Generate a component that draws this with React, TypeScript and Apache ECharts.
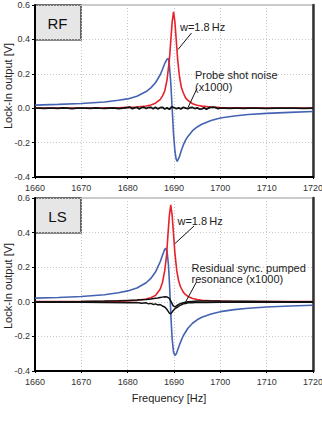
import React, { useEffect, useRef } from "react";
import * as echarts from "echarts";

// ---------- data ----------
const xTicks = [1660, 1670, 1680, 1690, 1700, 1710, 1720];
const yTicks = [-0.4, -0.2, 0.0, 0.2, 0.4, 0.6];

// RF panel
const rfRedX = [1660, 1665, 1670, 1675, 1678, 1680, 1682, 1684, 1685, 1686, 1687, 1687.5, 1688, 1688.5, 1689, 1689.3, 1689.6, 1689.9, 1690.2, 1690.5, 1690.8, 1691.2, 1691.6, 1692, 1692.5, 1693, 1694, 1695, 1696, 1698, 1700, 1703, 1706, 1710, 1715, 1720];
const rfRedY = [0.001, 0.001, 0.001, 0.002, 0.003, 0.005, 0.007, 0.013, 0.019, 0.029, 0.05, 0.07, 0.10, 0.165, 0.28, 0.39, 0.50, 0.56, 0.50, 0.39, 0.28, 0.18, 0.12, 0.09, 0.06, 0.045, 0.026, 0.017, 0.012, 0.007, 0.004, 0.003, 0.002, 0.001, 0.001, 0.001];

const rfBlueX = [1660, 1665, 1670, 1675, 1678, 1680, 1682, 1684, 1685, 1686, 1687, 1687.5, 1688, 1688.5, 1688.8, 1689, 1689.3, 1689.6, 1689.9, 1690.2, 1690.45, 1690.7, 1691.2, 1691.6, 1692, 1692.5, 1693, 1694, 1695, 1696, 1698, 1700, 1703, 1706, 1710, 1715, 1720];
const rfBlueY = [0.018, 0.022, 0.027, 0.036, 0.046, 0.054, 0.07, 0.097, 0.118, 0.148, 0.193, 0.225, 0.26, 0.285, 0.29, 0.25, 0.15, 0.0, -0.15, -0.25, -0.295, -0.31, -0.28, -0.245, -0.215, -0.186, -0.164, -0.131, -0.109, -0.093, -0.071, -0.057, -0.045, -0.037, -0.030, -0.024, -0.019];

const rfNoiseX = [1660, 1661, 1662, 1663, 1664, 1665, 1666, 1667, 1668, 1669, 1670, 1671, 1672, 1673, 1674, 1675, 1676, 1677, 1678, 1679, 1680, 1680.5, 1681, 1681.5, 1682, 1682.5, 1683, 1683.5, 1684, 1684.5, 1685, 1685.5, 1686, 1686.5, 1687, 1687.5, 1688, 1688.5, 1689, 1689.5, 1690, 1690.5, 1691, 1691.5, 1692, 1692.5, 1693, 1693.5, 1694, 1694.5, 1695, 1695.5, 1696, 1696.5, 1697, 1697.5, 1698, 1698.5, 1699, 1699.5, 1700, 1701, 1702, 1703, 1704, 1705, 1706, 1708, 1710, 1712, 1714, 1716, 1718, 1720];
const rfNoiseY = [0.001, 0.0, -0.001, 0.001, 0.0, -0.001, 0.002, 0.0, -0.002, 0.001, 0.0, 0.001, -0.001, 0.002, 0.0, -0.001, 0.001, 0.002, -0.002, 0.001, 0.004, 0.006, -0.003, 0.002, 0.005, -0.004, 0.003, 0.006, -0.002, 0.004, 0.005, -0.003, 0.006, -0.004, 0.003, 0.005, -0.005, 0.002, -0.006, 0.007, 0.004, -0.003, 0.002, -0.004, 0.005, 0.001, -0.003, 0.003, 0.004, -0.002, 0.002, -0.005, -0.004, 0.003, -0.006, 0.002, 0.005, 0.006, 0.003, -0.002, 0.001, 0.0, -0.001, 0.001, 0.0, -0.001, 0.001, 0.0, -0.001, 0.001, 0.0, 0.001, -0.001, 0.0];

// LS panel
const lsRedX = [1660, 1665, 1670, 1675, 1678, 1680, 1682, 1684, 1685, 1686, 1687, 1687.5, 1688, 1688.4, 1688.7, 1689, 1689.3, 1689.6, 1689.9, 1690.2, 1690.6, 1691, 1691.4, 1692, 1692.5, 1693, 1694, 1695, 1696, 1698, 1700, 1703, 1706, 1710, 1715, 1720];
const lsRedY = [0.001, 0.001, 0.001, 0.002, 0.004, 0.005, 0.009, 0.016, 0.023, 0.037, 0.072, 0.11, 0.18, 0.27, 0.39, 0.50, 0.56, 0.50, 0.39, 0.28, 0.18, 0.12, 0.087, 0.056, 0.041, 0.031, 0.019, 0.013, 0.009, 0.006, 0.004, 0.002, 0.002, 0.001, 0.001, 0.001];

const lsBlueX = [1660, 1665, 1670, 1675, 1678, 1680, 1682, 1684, 1685, 1686, 1687, 1687.5, 1688, 1688.2, 1688.5, 1688.8, 1689, 1689.2, 1689.4, 1689.6, 1689.9, 1690.2, 1690.5, 1691, 1691.5, 1692, 1693, 1694, 1695, 1696, 1698, 1700, 1703, 1706, 1710, 1715, 1720];
const lsBlueY = [0.021, 0.025, 0.031, 0.041, 0.052, 0.063, 0.08, 0.11, 0.135, 0.172, 0.23, 0.268, 0.303, 0.31, 0.291, 0.214, 0.119, 0.0, -0.119, -0.214, -0.291, -0.31, -0.30, -0.263, -0.227, -0.196, -0.153, -0.124, -0.104, -0.089, -0.070, -0.057, -0.045, -0.037, -0.030, -0.024, -0.020];

const lsRiseX = [1660, 1665, 1670, 1675, 1678, 1680, 1682, 1683, 1684, 1685, 1686, 1686.5, 1687, 1687.5, 1688, 1688.5, 1689, 1689.4, 1689.8, 1690.2, 1690.6, 1691, 1691.5, 1692, 1692.5, 1693, 1694, 1695, 1696, 1698, 1700, 1705, 1710, 1715, 1720];
const lsRiseY = [0.0, 0.001, 0.002, 0.004, 0.006, 0.008, 0.010, 0.012, 0.013, 0.016, 0.02, 0.022, 0.025, 0.027, 0.029, 0.028, 0.02, 0.0, -0.022, -0.03, -0.022, -0.015, -0.01, -0.006, -0.002, 0.0, 0.002, 0.004, 0.004, 0.005, 0.004, 0.003, 0.002, 0.001, 0.0];

const lsDipX = [1660, 1665, 1670, 1675, 1680, 1682, 1683, 1684, 1684.5, 1685, 1685.5, 1686, 1686.5, 1687, 1687.5, 1688, 1688.5, 1689, 1689.3, 1689.7, 1690.2, 1690.8, 1691.2, 1691.6, 1692, 1692.5, 1693, 1694, 1695, 1697, 1700, 1705, 1710, 1715, 1720];
const lsDipY = [-0.002, -0.003, -0.003, -0.004, -0.005, -0.004, -0.008, -0.006, -0.012, -0.009, -0.015, -0.012, -0.018, -0.016, -0.024, -0.03, -0.045, -0.065, -0.07, -0.055, -0.04, -0.03, -0.022, -0.018, -0.012, -0.01, -0.006, -0.005, -0.003, -0.004, -0.002, -0.003, -0.002, -0.002, -0.002];

const zip = (xs: number[], ys: number[]) => xs.map((x, i) => [x, ys[i]]);

const RED = "#e8222a";
const BLUE = "#4563b3";
const BLACK = "#111111";
const FONT = "Liberation Sans, Arial, sans-serif";

export default function App() {
  const ref = useRef<HTMLDivElement>(null);
  useEffect(() => {
    document.body.style.margin = "0";
    if (!ref.current) return;
    const chart = echarts.init(ref.current, null, { renderer: "svg" });

    const grids = [
      { left: 35, top: 5, width: 278, height: 172 },
      { left: 35, top: 198, width: 278, height: 173 },
    ];

    const xAxisFor = (gi: number, withName: boolean) => ({
      type: "value",
      gridIndex: gi,
      min: xTicks[0],
      max: xTicks[xTicks.length - 1],
      interval: 10,
      name: withName ? "Frequency [Hz]" : "",
      nameLocation: "middle",
      nameGap: 21,
      nameTextStyle: { fontSize: 11, color: "#222", fontFamily: FONT, padding: [0, 10, 0, 0] },
      axisLine: { show: true, onZero: false, lineStyle: { color: "#000", width: 2 } },
      axisTick: { show: true, length: 2, lineStyle: { color: "#000", width: 1 } },
      axisLabel: { fontSize: 9, color: "#333", fontFamily: FONT, margin: 6, formatter: (v: number) => String(v) },
      splitLine: { show: true, lineStyle: { color: "#c8c8c8", type: [1, 2], width: 1 } },
    });

    const yAxisFor = (gi: number) => ({
      type: "value",
      gridIndex: gi,
      min: yTicks[0],
      max: yTicks[yTicks.length - 1],
      interval: 0.2,
      axisLine: { show: true, onZero: false, lineStyle: { color: "#000", width: 2 } },
      axisTick: { show: true, length: 3, lineStyle: { color: "#000", width: 1 } },
      axisLabel: {
        fontSize: 9,
        color: "#333",
        fontFamily: FONT,
        margin: 5,
        formatter: (v: number) => v.toFixed(1),
      },
      splitLine: { show: true, lineStyle: { color: "#c8c8c8", type: [1, 2], width: 1 } },
    });

    const rightAxisFor = (gi: number) => ({
      type: "value",
      gridIndex: gi,
      position: "right",
      min: yTicks[0],
      max: yTicks[yTicks.length - 1],
      axisLine: { show: true, onZero: false, lineStyle: { color: "#333", width: 2.5 } },
      axisTick: { show: false },
      axisLabel: { show: false },
      splitLine: { show: false },
    });

    const line = (gi: number, data: number[][], color: string, width: number, z: number) => ({
      type: "line",
      xAxisIndex: gi,
      yAxisIndex: gi === 0 ? 0 : 2,
      data,
      showSymbol: false,
      symbol: "none",
      smooth: false,
      lineStyle: { color, width },
      z,
    });

    const txt = (x: number, y: number, text: string, size = 11) => ({
      type: "text",
      x,
      y,
      z: 100,
      style: { text, fontSize: size, fill: "#222", fontFamily: FONT, textVerticalAlign: "middle" },
    });
    const vtxt = (x: number, y: number, text: string) => ({
      type: "text",
      x,
      y,
      rotation: Math.PI / 2,
      z: 100,
      style: {
        text,
        fontSize: 11,
        fill: "#222",
        fontFamily: FONT,
        textAlign: "center",
        textVerticalAlign: "middle",
      },
    });
    const ln = (x1: number, y1: number, x2: number, y2: number) => ({
      type: "line",
      z: 100,
      shape: { x1, y1, x2, y2 },
      style: { stroke: "#111", lineWidth: 1 },
    });
    const box = (y: number, label: string) => ({
      type: "group",
      z: 100,
      children: [
        {
          type: "rect",
          shape: { x: 35, y, width: 46, height: 35 },
          style: { fill: "#e6e6e6", stroke: "#111", lineWidth: 1.2 },
        },
        {
          type: "text",
          x: 57.5,
          y: y + 18,
          style: {
            text: label,
            fontSize: 15,
            fill: "#111",
            fontFamily: FONT,
            textAlign: "center",
            textVerticalAlign: "middle",
          },
        },
      ],
    });

    chart.setOption({
      animation: false,
      backgroundColor: "#fff",
      grid: grids.map((g) => ({
        ...g,
        show: true,
        borderColor: "#999",
        borderWidth: 1,
        backgroundColor: "transparent",
        containLabel: false,
        outerBoundsMode: "none",
      })),
      xAxis: [xAxisFor(0, false), xAxisFor(1, true)],
      yAxis: [yAxisFor(0), rightAxisFor(0), yAxisFor(1), rightAxisFor(1)],
      series: [
        line(0, zip(rfBlueX, rfBlueY), BLUE, 1.6, 2),
        line(0, zip(rfRedX, rfRedY), RED, 1.6, 3),
        line(0, zip(rfNoiseX, rfNoiseY), BLACK, 1.8, 4),
        line(1, zip(lsBlueX, lsBlueY), BLUE, 1.6, 2),
        line(1, zip(lsRedX, lsRedY), RED, 1.6, 3),
        line(1, zip(lsRiseX, lsRiseY), BLACK, 1.5, 4),
        line(1, zip(lsDipX, lsDipY), BLACK, 1.5, 4),
      ],
      graphic: [
        vtxt(8, 86, "Lock-In output [V]"),
        vtxt(8, 286, "Lock-In output [V]"),
        box(5, "RF"),
        box(198, "LS"),
        txt(180, 27, "w=1.8\u2009Hz"),
        ln(191.5, 33, 178, 49.5),
        txt(195, 75, "Probe shot noise"),
        txt(195, 86.5, "(x1000)"),
        ln(197, 88.5, 188, 107.5),
        txt(177.5, 221, "w=1.8\u2009Hz"),
        ln(194, 226, 175, 243.5),
        txt(191.5, 267.5, "Residual sync. pumped"),
        txt(191.5, 278.5, "resonance (x1000)"),
        ln(196.5, 282, 185, 303),
      ],
    });
    return () => chart.dispose();
  }, []);
  return <div ref={ref} style={{ width: 322, height: 435 }} />;
}
